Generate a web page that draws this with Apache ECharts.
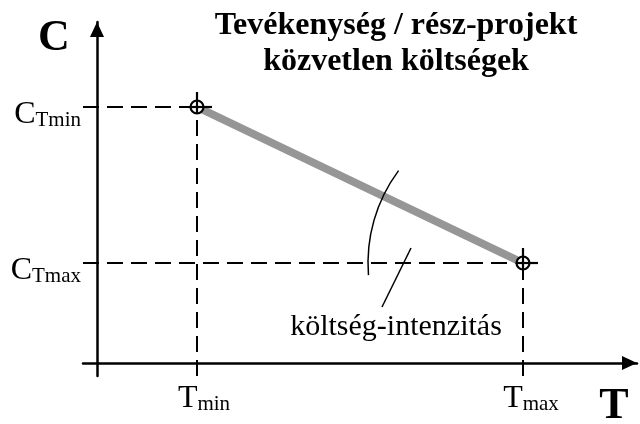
<!DOCTYPE html>
<html lang="hu">
<head>
<meta charset="UTF-8">
<title>Közvetlen költségek</title>
<script src="https://cdn.jsdelivr.net/npm/echarts@6/dist/echarts.min.js"></script>
<style>
  html, body { margin: 0; padding: 0; background: #fff; }
  #chart { width: 640px; height: 424px; }
</style>
</head>
<body>
<div id="chart"></div>
<script>
// data (axis units: arbitrary time T / cost C)
var axisMin = [-1.4, -1.3];          // x, y
var axisMax = [54, 34.1];
var tValues = [10, 42.6];            // Tmin, Tmax
var cValues = [25.6, 10];            // C(Tmin), C(Tmax)
var tSubs = ['min', 'max'];
var cSubs = ['Tmin', 'Tmax'];
var leader = [[28.5, 5.6], [31.4, 11.5]];
var arcRadius = 15.5;                // axis units, centred on the (Tmax, CTmax) point
var arcAngles = [-4.5, 36.6];        // degrees above the horizontal
var titleText = 'Tevékenység / rész-projekt\nközvetlen költségek';
var noteText = 'költség-intenzitás';

var serif = "'Liberation Serif', 'Times New Roman', serif";
var black = '#000';

var chart = echarts.init(document.getElementById('chart'));

var points = tValues.map(function (t, i) { return [t, cValues[i]]; });

// dashed guide lines to both axes
var guides = [];
points.forEach(function (p) {
    guides.push([[axisMin[0], p[1]], [p[0], p[1]]]);
    guides.push([[p[0], axisMin[1]], [p[0], p[1]]]);
});

var dashSeries = guides.map(function (g) {
    return {
        type: 'line', data: g, symbol: 'none', silent: true, z: 2,
        lineStyle: { color: black, width: 2, type: [16, 8] }
    };
});

// texts anchored on axis positions, dx/dy are pixel nudges
var texts = [];
points.forEach(function (p, i) {
    texts.push({ at: [axisMin[0], p[1]], text: '{m|C}{s|' + cSubs[i] + '}', align: 'right', dx: -2, dy: 8 });
    texts.push({ at: [p[0], axisMin[1]], text: '{m|T}{s|' + tSubs[i] + '}', align: 'center', dx: i ? 8 : 7, dy: 23 });
});
texts.push({ at: [0, axisMax[1]], text: '{b|C}', align: 'center', dx: -43, dy: 17 });
texts.push({ at: [axisMax[0], 0], text: '{b|T}', align: 'center', dx: -23, dy: 44 });
texts.push({ at: leader[0], text: '{n|' + noteText + '}', align: 'center', dx: 14, dy: 20 });

function txt(size, weight) {
    return { fontFamily: serif, fontSize: size, lineHeight: size, fontWeight: weight || 'normal',
        verticalAlign: 'bottom', fill: black };
}
var rich = { m: txt(32), s: txt(21), b: txt(44, 'bold'), n: txt(30) };

var option = {
    animation: false,
    backgroundColor: '#fff',
    title: {
        text: titleText,
        left: 396, top: 8, padding: 0,
        textAlign: 'center',
        textStyle: { fontFamily: serif, fontSize: 32, fontWeight: 'bold', lineHeight: 36, color: black }
    },
    grid: { left: 83, right: 3, top: 22, bottom: 48 },
    xAxis: {
        type: 'value', min: axisMin[0], max: axisMax[0],
        axisLine: { show: true, onZero: true, symbol: ['none', 'triangle'], symbolSize: [14, 15], symbolOffset: [0, -7.5],
            lineStyle: { color: black, width: 2.5 } },
        axisTick: { show: false }, axisLabel: { show: false }, splitLine: { show: false }
    },
    yAxis: {
        type: 'value', min: axisMin[1], max: axisMax[1],
        axisLine: { show: true, onZero: true, symbol: ['none', 'triangle'], symbolSize: [14, 15], symbolOffset: [0, -7.5],
            lineStyle: { color: black, width: 2.5 } },
        axisTick: { show: false }, axisLabel: { show: false }, splitLine: { show: false }
    },
    series: dashSeries.concat([
        {
            // cost line between the two points
            type: 'line', data: points, symbol: 'none', silent: true, z: 3,
            lineStyle: { color: '#969696', width: 8, cap: 'butt' }
        },
        {
            type: 'line', data: leader, symbol: 'none', silent: true, z: 3,
            lineStyle: { color: black, width: 1.5 }
        },
        {
            // angle arc
            type: 'custom', silent: true, z: 4,
            data: [[tValues[1], cValues[1], arcRadius]],
            renderItem: function (params, api) {
                var c = api.coord([api.value(0), api.value(1)]);
                var r = api.size([api.value(2), 0])[0];
                var d = Math.PI / 180;
                return {
                    type: 'arc',
                    shape: { cx: c[0], cy: c[1], r: r,
                        startAngle: Math.PI + arcAngles[0] * d, endAngle: Math.PI + arcAngles[1] * d, clockwise: true },
                    style: { stroke: black, lineWidth: 1.5, fill: null }
                };
            }
        },
        {
            // circle-cross markers
            type: 'custom', silent: true, z: 5,
            data: points,
            renderItem: function (params, api) {
                var p = api.coord([api.value(0), api.value(1)]);
                var r = 6.5;
                var st = { stroke: black, lineWidth: 2.2 };
                return {
                    type: 'group',
                    children: [
                        { type: 'circle', shape: { cx: p[0], cy: p[1], r: r }, style: { fill: '#fff', stroke: black, lineWidth: 2.2 } },
                        { type: 'line', shape: { x1: p[0] - r, y1: p[1], x2: p[0] + 15, y2: p[1] }, style: st },
                        { type: 'line', shape: { x1: p[0], y1: p[1] - 15, x2: p[0], y2: p[1] + r }, style: st }
                    ]
                };
            }
        },
        {
            // texts
            type: 'custom', silent: true, z: 6,
            data: texts.map(function (t) { return t.at; }),
            renderItem: function (params, api) {
                var t = texts[params.dataIndex];
                var p = api.coord([api.value(0), api.value(1)]);
                return {
                    type: 'text', x: p[0] + t.dx, y: p[1] + t.dy,
                    style: { text: t.text, rich: rich, align: t.align, verticalAlign: 'middle', fill: black }
                };
            }
        }
    ])
};

chart.setOption(option);
</script>
</body>
</html>
